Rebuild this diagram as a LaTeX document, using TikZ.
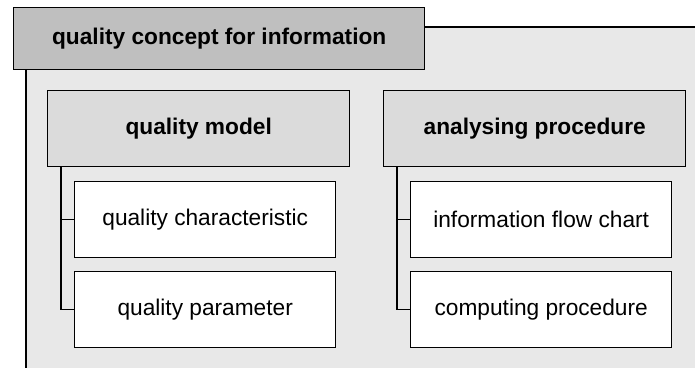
\documentclass[tikz,border=0pt]{standalone}
\usepackage{fontspec}
\setmainfont{Liberation Sans}
\begin{document}
\begin{tikzpicture}[x=1pt,y=-1pt,
  line width=1.4pt,
  titlebox/.style={draw=black,fill=black!25,minimum width=411pt,minimum height=62pt,inner sep=0pt,anchor=north west,font=\fontsize{22.7}{26}\selectfont\bfseries},
  headbox/.style={draw=black,fill=black!14,minimum width=302pt,minimum height=76pt,inner sep=0pt,anchor=north west,font=\fontsize{22.7}{26}\selectfont\bfseries},
  itembox/.style={draw=black,fill=white,minimum width=261pt,minimum height=76pt,inner sep=0pt,anchor=north west,font=\fontsize{22.7}{26}\selectfont},
  tree/.style={draw=black}]
\useasboundingbox (0,0) rectangle (695,367);
% panel
\fill[black!9] (26,27) rectangle (700,372);
\draw (26,372) -- (26,27) -- (700,27);
% title tab
\node[titlebox] (title) at (13,7) {quality concept for information};
% left column
\node[headbox] (qm) at (47,90) {quality model};
\node[itembox] (qc) at (74,181) {quality characteristic};
\node[itembox] (qp) at (74,271) {quality parameter};
% right column
\node[headbox] (ap) at (383,90) {analysing procedure};
\node[itembox] (ifc) at (410,181) {information flow chart};
\node[itembox] (cp) at (410,271) {computing procedure};
% tree connectors
\draw[tree] ([xshift=14pt]qm.south west) |- (qc.west);
\draw[tree] ([xshift=14pt]qm.south west) |- (qp.west);
\draw[tree] ([xshift=14pt]ap.south west) |- (ifc.west);
\draw[tree] ([xshift=14pt]ap.south west) |- (cp.west);
\end{tikzpicture}
\end{document}
